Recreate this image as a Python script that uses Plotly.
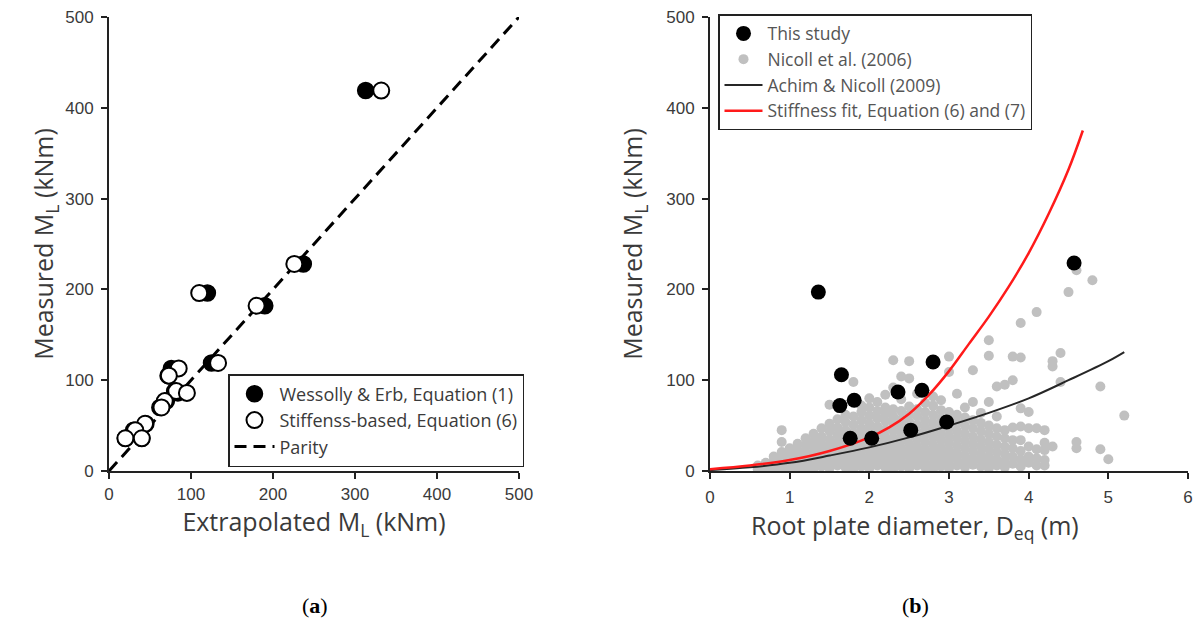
import plotly.graph_objects as go

# ---------------- Panel (a) data ----------------
measured_a = [419, 228, 196, 182, 119, 113, 105, 88, 86, 77, 70, 52, 45, 36, 36]
wessolly_a = [313, 237, 120, 190, 125, 76, 72, 80, 84, 70, 62, 45, 30, 20, 40]
stiffness_a = [332, 226, 110, 180, 133, 85, 73, 82, 95, 68, 64, 44, 32, 20, 40]
parity_x = [0, 500]
parity_y = [0, 500]

# ---------------- Panel (b) data ----------------
study_d = [1.36, 1.65, 1.63, 1.81, 1.76, 2.03, 2.36, 2.66, 2.80, 2.52, 2.97, 4.57]
study_m = [197, 106, 72, 78, 36, 36, 87, 89, 120, 45, 54, 229]

nicoll_columns = [
    (0.6, [2, 6]),
    (0.7, [1, 4, 9]),
    (0.8, [2, 6, 11, 16]),
    (0.9, [1, 5, 10, 15, 21, 32, 45]),
    (1.0, [3, 8, 13, 19, 25]),
    (1.1, [2, 6, 11, 17, 23, 30]),
    (1.2, [4, 9, 15, 21, 28, 36]),
    (1.3, [2, 7, 13, 19, 26, 33, 41]),
    (1.4, [5, 10, 16, 23, 30, 38, 47]),
    (1.5, [3, 8, 14, 21, 28, 35, 44, 52, 73]),
    (1.6, [6, 12, 18, 25, 32, 40, 48, 57]),
    (1.7, [4, 9, 15, 22, 29, 37, 45, 54, 62]),
    (1.8, [2, 7, 13, 20, 27, 34, 42, 51, 60, 98]),
    (1.9, [5, 11, 17, 24, 31, 39, 47, 56, 65, 72]),
    (2.0, [3, 9, 15, 22, 29, 36, 44, 52, 61, 70, 80]),
    (2.1, [6, 12, 19, 26, 33, 41, 49, 58, 66, 76]),
    (2.2, [4, 10, 17, 24, 31, 38, 46, 55, 63, 70, 84]),
    (2.3, [2, 8, 14, 21, 28, 36, 44, 52, 60, 68, 92, 122]),
    (2.4, [5, 11, 18, 25, 33, 41, 49, 57, 66, 79, 104]),
    (2.5, [3, 9, 16, 23, 30, 38, 46, 54, 62, 71, 102, 121]),
    (2.6, [6, 13, 20, 27, 35, 43, 51, 60, 68, 85]),
    (2.7, [4, 10, 17, 24, 32, 40, 48, 56, 65, 75]),
    (2.8, [2, 8, 15, 22, 29, 37, 45, 53, 62, 72, 82]),
    (2.9, [5, 12, 19, 26, 34, 42, 50, 58, 67, 78]),
    (3.0, [3, 9, 16, 23, 31, 39, 47, 56, 65, 109, 126]),
    (3.1, [6, 13, 20, 28, 36, 44, 53, 62, 85]),
    (3.2, [4, 10, 17, 25, 33, 41, 50, 59, 70]),
    (3.3, [7, 14, 22, 30, 38, 47, 56, 76, 111]),
    (3.4, [5, 12, 19, 27, 35, 44, 53, 64]),
    (3.5, [3, 9, 16, 24, 32, 41, 50, 76, 127, 144]),
    (3.6, [6, 13, 21, 29, 38, 47, 60, 93]),
    (3.7, [4, 11, 19, 27, 36, 45, 95]),
    (3.8, [8, 16, 25, 34, 48, 100, 126]),
    (3.9, [5, 13, 22, 34, 49, 69, 125, 163]),
    (4.0, [9, 16, 27, 47, 65]),
    (4.1, [6, 14, 24, 47, 175]),
    (4.2, [6, 12, 23, 31, 45]),
    (4.3, [27, 115, 121]),
    (4.4, [98, 130]),
    (4.5, [197]),
    (4.6, [25, 32, 221]),
    (4.8, [210]),
    (4.9, [24, 93]),
    (5.0, [13]),
    (5.2, [61]),
]

achim_d = [0, 0.5, 1.0, 1.5, 2.0, 2.5, 3.0, 3.5, 4.0, 4.5, 5.0, 5.2]
achim_m = [1, 4, 9, 17, 26, 37, 50, 64, 80, 100, 121, 131]

stiff_d = [0, 0.5, 1.0, 1.5, 2.0, 2.25, 2.5, 2.75, 3.0, 3.25, 3.5, 3.75, 4.0, 4.25, 4.5, 4.68]
stiff_m = [2, 6, 12, 22, 37, 48, 63, 84, 110, 140, 170, 203, 240, 283, 332, 375]

nicoll_d = [d for d, ms in nicoll_columns for _ in ms]
nicoll_m = [m for _, ms in nicoll_columns for m in ms]

TXT = "#3a3a3a"
FONT = "Liberation Sans"
TITLE_FONT = "Open Sans"

fig = go.Figure()

# Panel (a)
fig.add_trace(go.Scatter(
    x=parity_x, y=parity_y, mode="lines", name="Parity",
    line=dict(color="black", width=3, dash="12px,7px"),
    xaxis="x", yaxis="y", legend="legend", legendrank=3))
fig.add_trace(go.Scatter(
    x=wessolly_a, y=measured_a, mode="markers", name="Wessolly & Erb, Equation (1)",
    marker=dict(size=16, color="black", line=dict(color="black", width=1.5)),
    xaxis="x", yaxis="y", legend="legend", legendrank=1))
fig.add_trace(go.Scatter(
    x=stiffness_a, y=measured_a, mode="markers", name="Stiffenss-based, Equation (6)",
    marker=dict(size=16, color="white", line=dict(color="black", width=2)),
    xaxis="x", yaxis="y", legend="legend", legendrank=2))

# Panel (b)
fig.add_trace(go.Scatter(
    x=nicoll_d, y=nicoll_m, mode="markers", name="Nicoll et al. (2006)",
    marker=dict(size=10, color="#c0c0c0"),
    xaxis="x2", yaxis="y2", legend="legend2", legendrank=2))
fig.add_trace(go.Scatter(
    x=achim_d, y=achim_m, mode="lines", name="Achim & Nicoll (2009)",
    line=dict(color="#262626", width=2, shape="spline"),
    xaxis="x2", yaxis="y2", legend="legend2", legendrank=3))
fig.add_trace(go.Scatter(
    x=stiff_d, y=stiff_m, mode="lines", name="Stiffness fit, Equation (6) and (7)",
    line=dict(color="#ff1a1a", width=2.5, shape="spline"),
    xaxis="x2", yaxis="y2", legend="legend2", legendrank=4))
fig.add_trace(go.Scatter(
    x=study_d, y=study_m, mode="markers", name="This study",
    marker=dict(size=15, color="black"),
    xaxis="x2", yaxis="y2", legend="legend2", legendrank=1))

ax_common = dict(showline=True, linecolor="#222", linewidth=2, ticks="outside",
                 ticklen=6, tickwidth=2, tickcolor="#222", showgrid=False,
                 zeroline=False, automargin=False,
                 tickfont=dict(family=FONT, size=17, color=TXT),
                 title_font=dict(family=TITLE_FONT, size=25, color=TXT))

y0 = 1 - 471 / 621
y1 = 1 - 17 / 621

fig.update_layout(
    width=1200, height=621,
    margin=dict(l=0, r=0, t=0, b=0),
    paper_bgcolor="white", plot_bgcolor="white",
    showlegend=True,
    xaxis=dict(domain=[109 / 1200, 519 / 1200], range=[0, 500], dtick=100,
               anchor="y", ticklabelstandoff=1,
               title=dict(text="Extrapolated M<sub>L</sub> (kNm)", standoff=6), **ax_common),
    yaxis=dict(domain=[y0, y1], range=[0, 500], dtick=100, anchor="x",
               ticklabelstandoff=4,
               title=dict(text="Measured M<sub>L</sub> (kNm)", standoff=4), **ax_common),
    xaxis2=dict(domain=[710 / 1200, 1188 / 1200], range=[0, 6], dtick=1,
                anchor="y2", ticklabelstandoff=4, **ax_common),
    yaxis2=dict(domain=[y0, y1], range=[0, 500], dtick=100, anchor="x2",
                ticklabelstandoff=4,
                title=dict(text="Measured M<sub>L</sub> (kNm)", standoff=16), **ax_common),
    legend=dict(x=228 / 1200, y=1 - 374 / 621, xanchor="left", yanchor="top",
                bgcolor="white", bordercolor="#222", borderwidth=1.5,
                font=dict(family=TITLE_FONT, size=18, color=TXT),
                itemwidth=40, tracegroupgap=0),
    legend2=dict(x=718 / 1200, y=1 - 14 / 621, xanchor="left", yanchor="top",
                 bgcolor="white", bordercolor="#222", borderwidth=1.5,
                 font=dict(family=TITLE_FONT, size=17.5, color="#555"),
                 itemwidth=38, tracegroupgap=0),
    annotations=[
        dict(text="Root plate diameter, D<sub>eq</sub> (m)", x=915 / 1200, y=1 - 526 / 621,
             xref="paper", yref="paper", xanchor="center", yanchor="middle", showarrow=False,
             font=dict(family=TITLE_FONT, size=25, color=TXT)),
        dict(text="(<b>a</b>)", x=315 / 1200, y=1 - 605 / 621, xref="paper", yref="paper",
             xanchor="center", yanchor="middle", showarrow=False,
             font=dict(family="Liberation Serif", size=22, color="black")),
        dict(text="(<b>b</b>)", x=915 / 1200, y=1 - 605 / 621, xref="paper", yref="paper",
             xanchor="center", yanchor="middle", showarrow=False,
             font=dict(family="Liberation Serif", size=22, color="black")),
    ],
)

fig.write_html("out.html")
